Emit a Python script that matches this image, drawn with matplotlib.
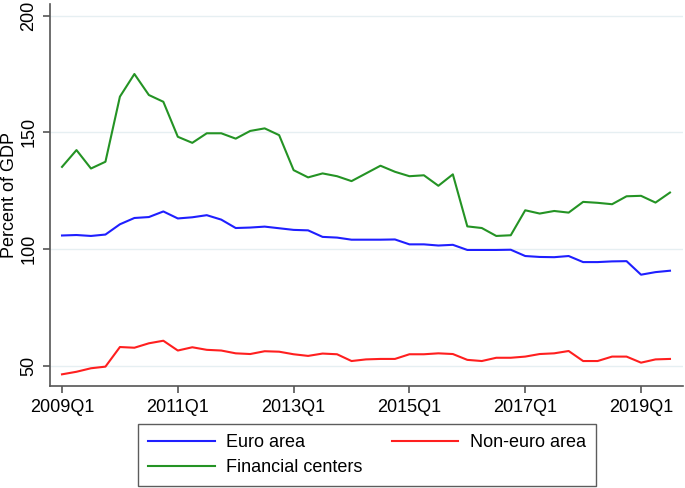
import matplotlib
matplotlib.use("Agg")
import matplotlib.pyplot as plt
import numpy as np

# quarters 2009Q1 .. 2019Q3
quarters = [f"{y}Q{q}" for y in range(2009, 2020) for q in range(1, 5)][:43]

euro_area = [105.8, 106.0, 105.6, 106.2, 110.6, 113.3, 113.7, 116.1, 113.1, 113.6,
             114.5, 112.6, 109.0, 109.2, 109.6, 108.9, 108.2, 108.0, 105.2, 104.9,
             104.0, 104.0, 104.0, 104.1, 102.0, 102.0, 101.5, 101.8, 99.6, 99.6,
             99.6, 99.7, 97.0, 96.6, 96.5, 97.0, 94.4, 94.4, 94.7, 94.8,
             89.0, 90.1, 90.7]
non_euro_area = [46.3, 47.4, 48.9, 49.6, 58.0, 57.7, 59.6, 60.7, 56.5, 57.9,
                 56.8, 56.5, 55.3, 55.0, 56.2, 56.0, 54.9, 54.2, 55.2, 54.9,
                 52.0, 52.7, 52.9, 52.9, 54.9, 54.9, 55.3, 55.0, 52.5, 52.0,
                 53.4, 53.4, 53.9, 55.0, 55.3, 56.3, 52.0, 52.0, 53.9, 53.9,
                 51.3, 52.7, 52.9]
financial_centers = [135.2, 142.4, 134.5, 137.4, 165.3, 175.0, 166.0, 163.1, 148.1, 145.5,
                     149.6, 149.6, 147.3, 150.6, 151.7, 148.8, 133.8, 130.7, 132.4, 131.2,
                     129.1, 132.4, 135.7, 133.1, 131.2, 131.6, 127.1, 132.0, 109.7, 109.0,
                     105.6, 105.9, 116.6, 115.2, 116.3, 115.6, 120.2, 119.8, 119.2, 122.6,
                     122.8, 119.9, 124.2]

yticks = [50, 100, 150, 200]

plt.rcParams['font.family'] = ['Liberation Sans', 'DejaVu Sans']
fs = 13

fig = plt.figure(figsize=(6.85, 4.88), dpi=100)
ax = fig.add_axes([50 / 685, (488 - 386) / 488, 633 / 685, 382 / 488])

x = np.arange(len(quarters))
l1, = ax.plot(x, euro_area, color='#1f1fff', lw=1.5, label='Euro area')
l2, = ax.plot(x, non_euro_area, color='#ff1f1f', lw=1.5, label='Non-euro area')
l3, = ax.plot(x, financial_centers, color='#249324', lw=1.5, label='Financial centers')

ax.set_xlim(-0.83, 42.9)
ax.set_ylim(41.3, 205)
xt = list(range(0, 43, 8))
ax.set_xticks(xt)
ax.set_xticklabels([quarters[i] for i in xt], fontsize=fs)
ax.set_yticks(yticks)
ax.set_yticklabels([str(v) for v in yticks], fontsize=fs, rotation=90, va='center')
ax.set_ylabel("Percent of GDP", fontsize=fs)
ax.yaxis.set_label_coords(-32 / 633, 0.5)

ax.grid(axis='y', color='#e6eff2', lw=1)
ax.set_axisbelow(True)
for s in ['top', 'right']:
    ax.spines[s].set_visible(False)
for s in ['left', 'bottom']:
    ax.spines[s].set_color('#555555')
    ax.spines[s].set_linewidth(1.2)
ax.tick_params(direction='out', length=5, width=1.2, color='#555555', pad=4)

leg = fig.legend([l1, l3, l2], ['Euro area', 'Financial centers', 'Non-euro area'],
                 ncol=2, loc='lower center', bbox_to_anchor=(367 / 685, 2 / 488),
                 borderaxespad=0, fontsize=fs, frameon=True, fancybox=False,
                 handlelength=3.7, handletextpad=0.65, labelspacing=0.45,
                 columnspacing=1.6, borderpad=0.55)
leg.get_frame().set_edgecolor('#333333')
leg.get_frame().set_linewidth(1.0)

fig.savefig("out.png", dpi=100)
